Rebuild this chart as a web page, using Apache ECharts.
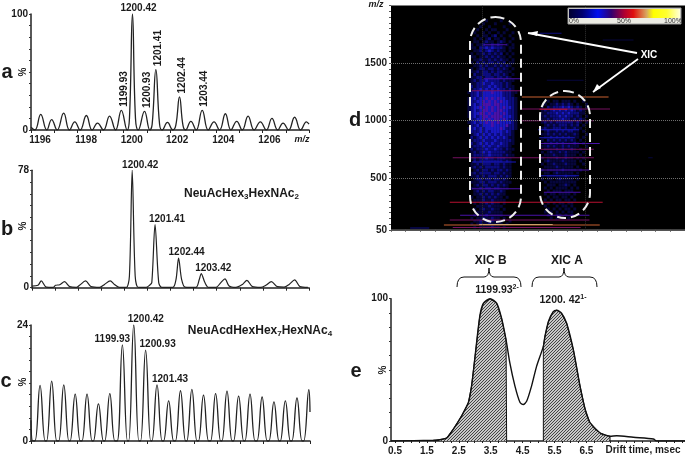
<!DOCTYPE html>
<html><head><meta charset="utf-8">
<script src="https://cdn.jsdelivr.net/npm/echarts@6/dist/echarts.min.js"></script>
<style>html,body{margin:0;padding:0;background:#fff}#c{width:685px;height:456px}</style></head>
<body><div id="c"></div>
<script>
// ---------- data: spectra (m/z, % intensity) ----------
const mzA = [1196,1196.17,1196.42,1196.68,1196.89,1197.13,1197.41,1197.66,1197.89,1198.12,1198.39,1198.64,1198.87,1199.13,1199.39,1199.65,1199.90,1200.15,1200.25,1200.38,1200.51,1200.63,1200.90,1201.13,1201.23,1201.39,1201.55,1201.66,1201.89,1202.12,1202.25,1202.41,1202.56,1202.67,1202.90,1203.13,1203.39,1203.65,1203.90,1204.14,1204.39,1204.63,1204.88,1205.12,1205.37,1205.63,1205.90,1206.16,1206.40,1206.65,1206.88,1207.12,1207.38,1207.64,1207.89,1208];
const intA = [2.3,0,13.5,0,9,0,14.5,0,7,0,12.5,0,6,0,12,0,17,0,10,100,10,0,16,0,5,52,5,0,6.5,0,4,28.5,4,0,7.5,0,17,0,7,0,14,0,7.5,0,12,0,7,0,10,0,6,0,11,0,7,5];
const mzB = [1196,1196.26,1196.40,1196.62,1196.91,1197.02,1197.20,1197.41,1197.63,1197.92,1198.06,1198.32,1198.56,1198.93,1199.14,1199.39,1199.57,1199.79,1200.08,1200.22,1200.34,1200.47,1200.61,1200.94,1201.09,1201.19,1201.33,1201.49,1201.62,1202.10,1202.24,1202.35,1202.48,1202.63,1203.10,1203.25,1203.33,1203.49,1203.65,1203.97,1204.18,1204.36,1204.54,1204.83,1205.12,1205.31,1205.55,1205.91,1206.13,1206.37,1206.63,1206.92,1207.14,1207.38,1207.61,1207.95];
const intB = [1.1,1.6,4.5,0.4,0.2,1.6,2,4,0.7,0.2,1.6,4.5,0.7,0.2,2.2,4.5,2.2,0.2,0.2,7.8,78,7.8,0.2,0.2,1.6,3.4,41.9,3.4,0.2,0.2,5.6,19.7,5.6,0.4,0.2,5.6,9.4,3.4,0.2,0.2,3.4,5.8,1.1,0.2,2.2,4.9,0.7,0.2,1.6,4,0.7,0.4,2.2,5.2,0.7,0.2];
const mzC = [1196,1196.08,1196.17,1196.39,1196.61,1196.67,1196.89,1197.11,1197.19,1197.41,1197.63,1197.68,1197.90,1198.12,1198.19,1198.41,1198.63,1198.68,1198.90,1199.12,1199.17,1199.39,1199.61,1199.71,1199.93,1200.15,1200.20,1200.42,1200.64,1200.71,1200.93,1201.15,1201.20,1201.42,1201.64,1201.70,1201.92,1202.14,1202.21,1202.43,1202.65,1202.70,1202.92,1203.14,1203.20,1203.42,1203.64,1203.72,1203.94,1204.16,1204.21,1204.43,1204.65,1204.71,1204.93,1205.15,1205.20,1205.42,1205.64,1205.72,1205.94,1206.16,1206.23,1206.45,1206.67,1206.72,1206.94,1207.16,1207.22,1207.44,1207.66,1207.73,1207.95,1208];
const intC = [4.3,0,0,11.5,0,0,12.4,0,0,11.6,0,0,9.7,0,0,9.7,0,0,7.7,0,0,9.8,0,0,19.9,0,0,24,0,0,18.8,0,0,11.6,0,0,8.3,0,0,10.4,0,0,10.7,0,0,9.5,0,0,9.8,0,0,10.3,0,0,9.3,0,0,9.7,0,0,9.1,0,0,8.1,0,0,8.3,0,0,8.9,0,0,10.6,6];
const peaksA = [[1199.90,17,'1199.93'],[1200.38,100,'1200.42'],[1200.90,16,'1200.93'],[1201.39,52,'1201.41'],[1202.41,28.5,'1202.44'],[1203.39,17,'1203.44']];
const peaksB = [[1200.34,78,'1200.42'],[1201.33,41.9,'1201.41'],[1202.35,19.7,'1202.44'],[1203.33,9.4,'1203.42']];
const peaksC = [[1199.93,19.9,'1199.93'],[1200.42,24,'1200.42'],[1200.93,18.8,'1200.93'],[1201.42,11.6,'1201.43']];
const tickLabelsA = [1196.39,1198.38,1200.35,1202.31,1204.30,1206.29];
// ---------- data: drift-time profile (msec, %) ----------
const driftT = [0.375,1.70,1.91,2.12,2.33,2.59,2.80,2.90,3.01,3.16,3.27,3.48,3.69,3.84,3.98,4.10,4.26,4.42,4.52,4.63,4.78,4.94,5.15,5.20,5.31,5.46,5.57,5.72,5.88,6.09,6.30,6.46,6.61,6.93,7.24,7.45,7.97,8.60,8.70,9.59];
const driftI = [0,0.5,0.9,2.1,8.4,17.7,27,38.6,59.5,88,96.7,100,96.7,86.3,71.2,54.9,38.6,27,25.6,28.1,38.6,52.6,66.5,73.5,84,90.9,91.9,89.8,82.8,64.2,38.6,22.3,13,5.6,3.3,3.7,2.6,1.4,0,0];
const xicBEnd = 4.0, xicAStart = 5.15, xicAEnd = 7.24;
const driftTickLabels = [0.5,1.5,2.5,3.5,4.5,5.5,6.5];
const driftTicks = [0.5,0.75,1,1.25,1.5,1.75,2,2.25,2.5,2.75,3,3.25,3.5,3.75,4,4.25,4.5,4.75,5,5.25,5.5,5.75,6,6.25,6.5,6.75,7,7.25,7.5,7.75,8,8.25,8.5,8.75,9,9.25,9.5];
// ---------- data: 2D map (each digit = intensity level of one cell, top row first) ----------
const mapLeftTop = 1880, mapRightTop = 1180, mapRowStep = 26, mapColStep = 2, mapLeftBin = 52, mapRightBin = 100;
const mapLeft = ["00000010000100000000","00000100010000100000","00001001000010000000","00010010110001000000","00100101001010010000","00010110120100100000","00101012011010010000","00110121101210100000","01011211212101010000","01102232322210110000","00112123212110100000","01011212121201010000","01101121212110100000","00112112121211010000","01021212212120110000","00112121121212100000","01012212212121010000","01121221212211100000","00211222122121010000","01122122212212100000","01212232222121110000","01122322322212100000","02122223232212110000","01223232323221210000","12232333433322211000","02232333333322210000","12323343434332221000","12233434343433221000","12323444344333221000","12334343434343321000","12323443434433221000","12334434344343221000","12323443444433321000","02233434344343221000","12323343434333321000","02232333433334221000","12323233333432221000","02223232333323210000","01232323232322210000","02123232323232110000","01222322232222210000","02123232322322110000","01222323223222100000","02122232232212110000","01212323222221100000","01222223222212110000","01212232212221100000","00212222222212100000","01121222122121100000","01212122222121100000","00121221212212100000","01212222122121100000","01121212221212100000","00122122122121000000","01112212221211100000","00121221212121000000","01112122122111000000","00121212211210000000","00112121212110000000","01011212121101000000","00111211211110000000","00101121211010000000","00011112111100000000","00101211211010000000","00011112111100000000","00101121111100000000","01011211211010000000","00112121211100100000","01012112111101000000","00101111211010000000"];
const mapRight = ["000101101110100100","001011212121010010","010212223232121010","012123232323212100","011222323232221100","012122232322121010","011212223221212100","012121222222121010","001212122212120100","012112221211211000","001211212122110100","011212121211210010","001121212121110100","010212121212101000","001121212111210100","011212112121110010","001111212112101000","010121121211110100","001112111211101000","010111211211010100","001211112111101000","010112111211100100","001111211111010000","010111112111101000","001101211111010000","000111111211100000","010110121111010000","001011111111100000","000111011210100000","001010111101010000","000101110111000000","001011011110100000","000101101101000000","001010110110100000","000101011011000000","001000101101000000","000101010110100000","001010101011000000","000100110101000000","000010101010000000"];
// streaks: m/z, from bin, to bin, level
const streaks = [[1204,89,148,7],[1100,89,149,5],[1098,101,120,6],[998,89,138,5],[1259,55,89,5],[1363,63,88,4],[677,42,138,5],[750,101,138,5],[800,101,142,4],[570,101,135,4],[407,55,88,4],[377,104,129,4],[289,40,144,6],[177,47,135,4],[135,40,135,5],[91,36,142,7],[96,60,110,8],[70,42,129,5],[65,13,26,2],[1760,101,116,2],[1700,144,165,1],[1660,63,79,4],[1350,106,131,1],[677,175,178,1],[850,101,125,3],[920,100,128,3],[640,55,85,3],[520,101,128,3]];
const mapTicksY = [50,500,1000,1500];
const mapGrid = [500,1000,1500];
const mapGridX = [62,132];
const levelColors = ['#000','#06063c','#0c0c80','#1818c0','#4a12a8','#761060','#b81030','#c86030','#c8a068'];

// ---------- build ----------
const F = '"Liberation Sans", Arial, sans-serif';
const pair = (a,b)=>a.map((v,i)=>[v,b[i]]);
const map = [];
mapLeft.forEach((r,j)=>[...r].forEach((c,i)=>{ if(c!=='0'){const x=mapLeftBin+i*mapColStep, y=mapLeftTop-j*mapRowStep; map.push([x,x+mapColStep,y,y-mapRowStep,+c]);}}));
mapRight.forEach((r,j)=>[...r].forEach((c,i)=>{ if(c!=='0'){const x=mapRightBin+i*mapColStep, y=mapRightTop-j*mapRowStep; map.push([x,x+mapColStep,y,y-mapRowStep,+c]);}}));
streaks.forEach(s=>map.push([s[1],s[2],s[0]+4,s[0]-4,s[3]]));

const hatch = document.createElement('canvas'); hatch.width=hatch.height=3;
{const g=hatch.getContext('2d'); g.fillStyle='#c8c8c8'; g.fillRect(0,0,3,3); g.strokeStyle='#444'; g.lineWidth=1;
 g.beginPath(); g.moveTo(-1,4); g.lineTo(4,-1); g.moveTo(-1,1); g.lineTo(1,-1); g.moveTo(2,4); g.lineTo(4,2); g.stroke();}
const profile = pair(driftT,driftI);
const idxB = driftT.findIndex(t=>t>=3.98);
const areaB = [[driftT[1],0],...profile.slice(1,idxB+1),[xicBEnd,profile[idxB][1]],[xicBEnd,0]];
const areaA = [[xicAStart,0],...profile.filter(p=>p[0]>=xicAStart&&p[0]<=xicAEnd),[xicAEnd,0]];

const tx = {fontFamily:F,fontWeight:'bold',fontSize:10,color:'#1a1a1a'};
function xAx(i,labelVals){return {gridIndex:i,type:'value',min:1196,max:1208,interval:1,
  axisLine:{show:true,onZero:false,lineStyle:{color:'#222',width:1.5}},axisTick:{show:true,length:3,lineStyle:{color:'#222'}},splitLine:{show:false},
  axisLabel:labelVals?{show:true,...tx,margin:5,customValues:labelVals,formatter:v=>Math.floor(v)}:{show:false}};}
function yAx(i,max,step,labels){return {gridIndex:i,type:'value',min:0,max:max,interval:step,
  axisLine:{show:true,lineStyle:{color:'#222',width:1.5}},axisTick:{show:true,length:2,lineStyle:{color:'#333'}},splitLine:{show:false},
  axisLabel:{...tx,margin:3,customValues:labels}};}
function spec(i,mz,int,sm,w){return {type:'line',xAxisIndex:i,yAxisIndex:i,data:pair(mz,int),showSymbol:false,smooth:sm,lineStyle:{color:'#222',width:w},silent:true};}
function peakLabels(i,peaks,rot,off){return {type:'scatter',xAxisIndex:i,yAxisIndex:i,symbolSize:1,itemStyle:{color:'transparent',opacity:1},silent:true,z:5,
  data:peaks.map((p,k)=>({value:[p[0],p[1]],label:{show:true,...tx,formatter:p[2],position:'top',distance:rot&&k!==1?3:0,offset:off[k],
    ...(rot&&k!==1?{rotate:90,align:'left',verticalAlign:'middle'}:{})}}))};}

const option = {
 animation:false,backgroundColor:'#fff',
 grid:[
  {left:31,width:278,top:14,height:116},
  {left:32,width:277,top:170.3,height:117.4},
  {left:31,width:279,top:325,height:116},
  {left:391,width:294,top:5.5,height:224.25,show:true,backgroundColor:'#000',borderWidth:0},
  {left:391,width:294,top:298.7,height:143.3}
 ],
 xAxis:[xAx(0,tickLabelsA),xAx(1),xAx(2),
  {gridIndex:3,type:'value',min:0,max:200,interval:10,axisLine:{show:true,onZero:false,lineStyle:{color:'#555'}},axisTick:{show:true,length:2,lineStyle:{color:'#555'}},axisLabel:{show:false},splitLine:{show:false}},
  {gridIndex:4,type:'value',min:0.375,max:9.59,axisLine:{show:true,onZero:false,lineStyle:{color:'#222',width:1.5}},
   axisTick:{show:true,length:2,customValues:driftTicks,lineStyle:{color:'#222'}},axisLabel:{...tx,margin:5,customValues:driftTickLabels,formatter:v=>v.toFixed(1)},splitLine:{show:false}}],
 yAxis:[yAx(0,100,10,[0,100]),yAx(1,78,7.8,[0,78]),yAx(2,24,2.4,[0,24]),
  {gridIndex:3,type:'value',min:50,max:2000,interval:50,axisLine:{show:false},axisTick:{show:true,length:2,lineStyle:{color:'#555'}},axisLabel:{...tx,margin:4,customValues:mapTicksY,formatter:v=>String(v)},splitLine:{show:false}},
  yAx(4,100,10,[0,100])],
 series:[
  spec(0,mzA,intA,0.45,1.3),peakLabels(0,peaksA,true,[[0,2.5],[6,0],[0,2.5],[0,2],[0,3],[0,2]]),
  spec(1,mzB,intB,0.3,1.2),peakLabels(1,peaksB,false,[[8,0],[12,0],[8,0],[12,0]]),
  spec(2,mzC,intC,0.45,1.3),peakLabels(2,peaksC,false,[[-10,0],[12,0],[12,0],[13,0]]),
  {type:'custom',xAxisIndex:3,yAxisIndex:3,data:map,encode:{x:[0,1],y:[2,3]},silent:true,clip:true,
   renderItem:(p,api)=>{const a=api.coord([api.value(0),api.value(2)]),b=api.coord([api.value(1),api.value(3)]);
     return {type:'rect',shape:{x:a[0],y:a[1],width:b[0]-a[0],height:Math.max(1,b[1]-a[1])},style:{fill:levelColors[api.value(4)]}};},
   markLine:{silent:true,symbol:'none',label:{show:false},lineStyle:{color:'#6e6e6e',type:'dotted',width:1},
     data:[...mapGrid.map(v=>({yAxis:v})),...mapGridX.map(v=>({xAxis:v,lineStyle:{color:'#333',type:'dotted',width:1}}))]}},
  {type:'line',xAxisIndex:4,yAxisIndex:4,data:areaB,showSymbol:false,silent:true,lineStyle:{color:'#111',width:1},areaStyle:{color:{image:hatch,repeat:'repeat'},opacity:1},z:2},
  {type:'line',xAxisIndex:4,yAxisIndex:4,data:areaA,showSymbol:false,silent:true,lineStyle:{color:'#111',width:1},areaStyle:{color:{image:hatch,repeat:'repeat'},opacity:1},z:2},
  {type:'line',xAxisIndex:4,yAxisIndex:4,data:profile,showSymbol:false,silent:true,smooth:0.25,lineStyle:{color:'#111',width:1.4},z:3}
 ],
 graphic:{elements:buildGraphic()}
};
function txt(x,y,text,o={}){return {type:'text',z:100,x,y,style:{text,fontFamily:F,fontWeight:'bold',fontSize:10,fill:'#1a1a1a',align:'center',verticalAlign:'middle',...o}};}
function pct(x,y){const t=txt(x,y,'%');t.rotation=Math.PI/2;return t;}
function brace(x0,xm,x1,yTip,yMid,yEnd){const s={stroke:'#111',lineWidth:1,fill:'none'};const c=(a,b,e,f,g,h)=>({type:'bezierCurve',z:100,silent:true,shape:{x1:a,y1:b,cpx1:e,cpy1:f,x2:g,y2:h},style:s});
 const l=(a,b,g,h)=>({type:'line',z:100,silent:true,shape:{x1:a,y1:b,x2:g,y2:h},style:s});
 return [c(x0,yEnd,x0,yMid,x0+7,yMid),l(x0+7,yMid,xm-5,yMid),c(xm-5,yMid,xm,yMid,xm,yTip),c(xm,yTip,xm,yMid,xm+5,yMid),l(xm+5,yMid,x1-7,yMid),c(x1-7,yMid,x1,yMid,x1,yEnd)];}
function arrow(x1,y1,x2,y2,h1,h2){return [
 {type:'line',z:100,silent:true,shape:{x1,y1,x2,y2},style:{stroke:'#fff',lineWidth:1.8}},
 {type:'polygon',z:100,silent:true,shape:{points:[[x2,y2],h1,h2]},style:{fill:'#fff'}}];}
function buildGraphic(){
 const rich={a:{fontFamily:F,fontWeight:'bold',fontSize:12,color:'#1a1a1a'},s:{fontFamily:F,fontWeight:'bold',fontSize:8,color:'#1a1a1a',padding:[6,0,0,0]},u:{fontFamily:F,fontWeight:'bold',fontSize:7,color:'#1a1a1a',padding:[0,0,6,0]},b:{fontFamily:F,fontWeight:'bold',fontSize:10.5,color:'#1a1a1a'}};
 return [
  txt(7,72,'a',{fontSize:20}),txt(7,229,'b',{fontSize:20}),txt(6,381,'c',{fontSize:20}),txt(355,120,'d',{fontSize:20}),txt(356,371,'e',{fontSize:20}),
  pct(23,72),pct(23,226),pct(23,382),pct(383,370),
  txt(302,140,'m/z',{fontStyle:'italic',fontSize:9}),txt(376,5,'m/z',{fontStyle:'italic',fontSize:9}),
  txt(241.5,194,'{a|NeuAcHex}{s|3}{a|HexNAc}{s|2}',{rich}),
  txt(260,331,'{a|NeuAcdHexHex}{s|7}{a|HexNAc}{s|4}',{rich}),
  txt(643,450,'Drift time, msec'),
  txt(490.7,261,'XIC B',{fontSize:12}),txt(567,261,'XIC A',{fontSize:12}),
  txt(497,290,'{b|1199.93}{u|2-}',{rich}),txt(563,300,'{b|1200. 42}{u|1-}',{rich}),
  ...brace(457,489,521,268,277,287),...brace(532,564,597,268,277,287),
  // colour scale
  {type:'rect',z:100,silent:true,shape:{x:568,y:8,width:113,height:16},style:{fill:'#ecece4',stroke:'#999',lineWidth:1}},
  {type:'rect',z:101,silent:true,shape:{x:569,y:9,width:111,height:9},style:{fill:{type:'linear',x:0,y:0,x2:1,y2:0,colorStops:[{offset:0,color:'#000030'},{offset:.12,color:'#000070'},{offset:.26,color:'#0010f0'},{offset:.38,color:'#300070'},{offset:.5,color:'#b00030'},{offset:.58,color:'#e01010'},{offset:.7,color:'#d8a860'},{offset:.76,color:'#ffff00'},{offset:.88,color:'#ffff30'},{offset:1,color:'#ffffd8'}]}}},
  txt(574,21,'0%',{fontSize:7,fontWeight:'normal',fill:'#333'}),txt(624,21,'50%',{fontSize:7,fontWeight:'normal',fill:'#333'}),txt(673,21,'100%',{fontSize:7,fontWeight:'normal',fill:'#333'}),
  // capsules and arrows
  {type:'rect',z:100,silent:true,shape:{x:470,y:17,width:51,height:205,r:25.5},style:{fill:'none',stroke:'#eee',lineWidth:2,lineDash:[9,5]}},
  {type:'rect',z:100,silent:true,shape:{x:540,y:91,width:50,height:127,r:25},style:{fill:'none',stroke:'#eee',lineWidth:2,lineDash:[9,5]}},
  ...arrow(637,53,528,33,[538,31],[537,36]),...arrow(638,59,593,92,[597,84],[601,88]),
  txt(649,55.5,'XIC',{fill:'#fff',fontSize:10})
 ];
}
echarts.init(document.getElementById('c'),null,{renderer:'canvas'}).setOption(option);
</script></body></html>
